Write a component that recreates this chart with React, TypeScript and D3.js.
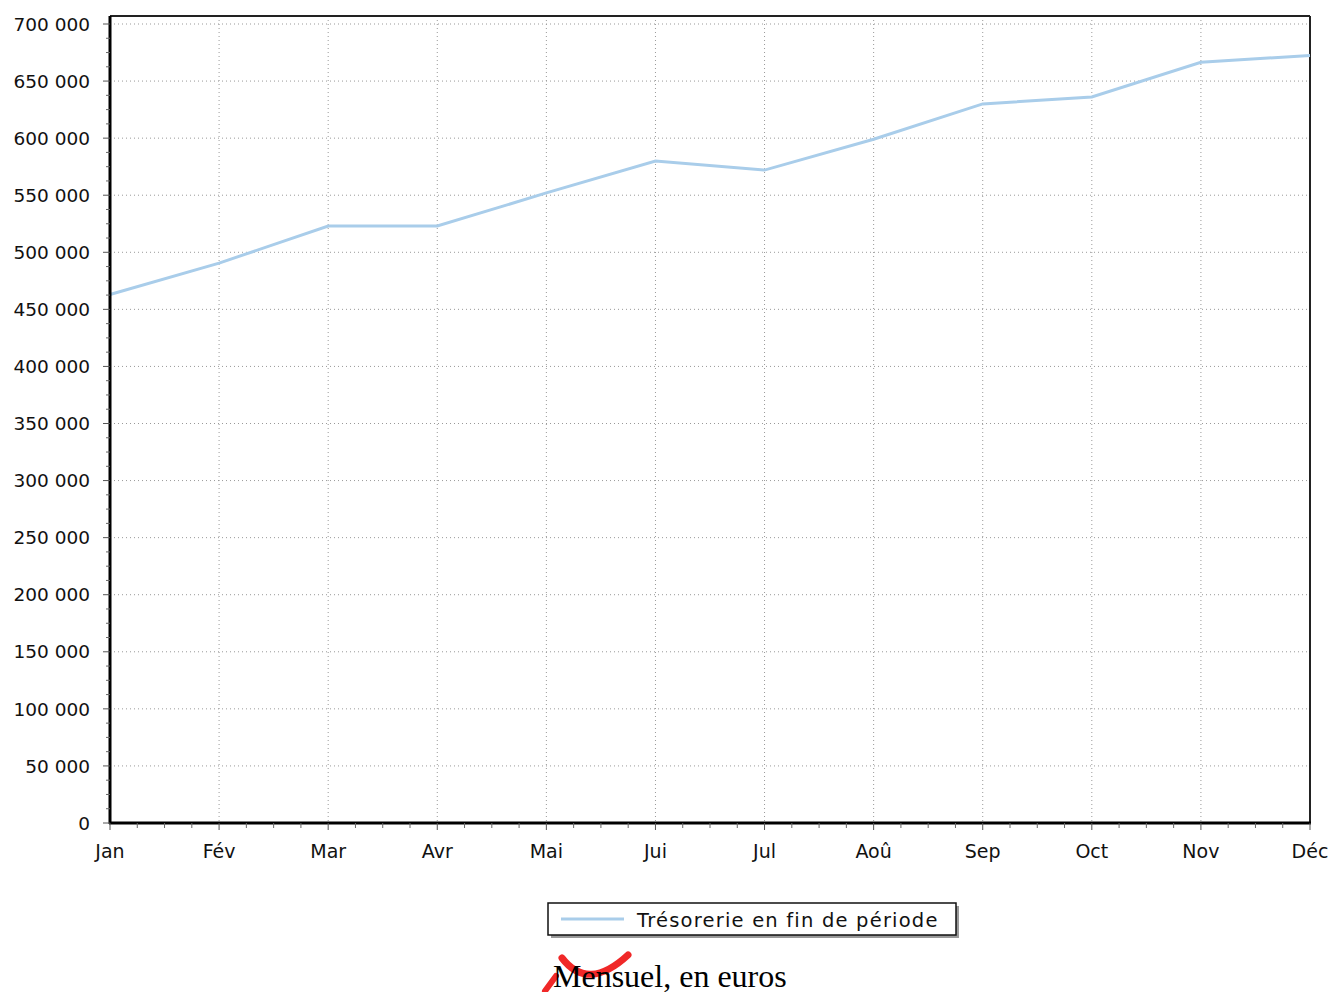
import * as d3 from 'd3';

const months = ['Jan', 'Fév', 'Mar', 'Avr', 'Mai', 'Jui', 'Jul', 'Aoû', 'Sep', 'Oct', 'Nov', 'Déc'];
const tresorerie = [463000, 490500, 523000, 523000, 552000, 580000, 572000, 599000, 630000, 636000, 666500, 672500];
const yTicks = [0, 50000, 100000, 150000, 200000, 250000, 300000, 350000, 400000, 450000, 500000, 550000, 600000, 650000, 700000];

const WIDTH = 1332;
const HEIGHT = 992;
const PLOT = { left: 110, right: 1310, top: 24, bottom: 823, frameTop: 16 };
const FONT = '"DejaVu Sans", Verdana, sans-serif';
const LINE_COLOR = '#a9cdea';

const fmt = (v: number) => d3.format(',')(v).replace(/,/g, ' ');

export default function App() {
    const xScale = d3
        .scalePoint<string>()
        .domain(months)
        .range([PLOT.left, PLOT.right]);

    const yScale = d3
        .scaleLinear()
        .domain([0, 700000])
        .range([PLOT.bottom, PLOT.top]);

    const step = xScale.step();
    const line = d3
        .line<number>()
        .x((_, i) => xScale(months[i]) ?? 0)
        .y((d) => yScale(d));

    // minor ticks: 4 subdivisions between majors
    const xMinor: number[] = [];
    months.slice(0, -1).forEach((m) => {
        const x0 = xScale(m) ?? 0;
        for (let k = 1; k < 4; k++) xMinor.push(x0 + (step * k) / 4);
    });
    const yMinor: number[] = [];
    yTicks.slice(0, -1).forEach((v) => {
        for (let k = 1; k < 4; k++) yMinor.push(yScale(v + (50000 * k) / 4));
    });

    return (
        <svg width={WIDTH} height={HEIGHT} style={{ position: 'absolute', left: 0, top: 0, background: '#fff' }}>
            {/* grid */}
            {yTicks.map((v) => (
                <line key={'gy' + v} x1={PLOT.left} x2={PLOT.right} y1={yScale(v)} y2={yScale(v)}
                    stroke="#999" strokeWidth={1} strokeDasharray="1,3" />
            ))}
            {months.map((m) => (
                <line key={'gx' + m} x1={xScale(m)} x2={xScale(m)} y1={PLOT.frameTop} y2={PLOT.bottom}
                    stroke="#999" strokeWidth={1} strokeDasharray="1,3" />
            ))}

            {/* frame */}
            <line x1={PLOT.left} x2={PLOT.right} y1={PLOT.frameTop} y2={PLOT.frameTop} stroke="#222" strokeWidth={2} />
            <line x1={PLOT.right} x2={PLOT.right} y1={PLOT.frameTop} y2={PLOT.bottom} stroke="#222" strokeWidth={2} />

            {/* series */}
            <path d={line(tresorerie) ?? ''} fill="none" stroke={LINE_COLOR} strokeWidth={3} />

            {/* axes */}
            <line x1={PLOT.left} x2={PLOT.left} y1={PLOT.frameTop} y2={PLOT.bottom + 1} stroke="#000" strokeWidth={3} />
            <line x1={PLOT.left - 1} x2={PLOT.right + 1} y1={PLOT.bottom} y2={PLOT.bottom} stroke="#000" strokeWidth={3} />

            {yTicks.map((v) => (
                <g key={'ty' + v}>
                    <line x1={PLOT.left - 7} x2={PLOT.left} y1={yScale(v)} y2={yScale(v)} stroke="#555" />
                    <text x={90} y={yScale(v)} dy="0.36em" textAnchor="end" fontFamily={FONT} fontSize={18.5} fill="#111">
                        {fmt(v)}
                    </text>
                </g>
            ))}
            {yMinor.map((y, i) => (
                <line key={'my' + i} x1={PLOT.left - 4} x2={PLOT.left} y1={y} y2={y} stroke="#666" />
            ))}

            {months.map((m) => (
                <g key={'tx' + m}>
                    <line x1={xScale(m)} x2={xScale(m)} y1={PLOT.bottom} y2={PLOT.bottom + 7} stroke="#555" />
                    <text x={xScale(m)} y={858} textAnchor="middle" fontFamily={FONT} fontSize={19} fill="#111">
                        {m}
                    </text>
                </g>
            ))}
            {xMinor.map((x, i) => (
                <line key={'mx' + i} x1={x} x2={x} y1={PLOT.bottom} y2={PLOT.bottom + 5} stroke="#666" />
            ))}

            {/* legend */}
            <rect x={551} y={906} width={408} height={32} fill="#999" />
            <rect x={548} y={903} width={408} height={32} fill="#fff" stroke="#111" strokeWidth={1.5} />
            <line x1={561} x2={624} y1={919} y2={919} stroke={LINE_COLOR} strokeWidth={3} />
            <text x={637} y={927} fontFamily={FONT} fontSize={19.5} letterSpacing={1.2} fill="#111">Trésorerie en fin de période</text>

            {/* caption */}
            <path d="M 562 958 Q 588 992 628 955" fill="none" stroke="#f02828" strokeWidth={7} strokeLinecap="round" />
            <path d="M 545 991 L 556 976" fill="none" stroke="#f02828" strokeWidth={6} strokeLinecap="round" />
            <text x={553} y={987} fontFamily='"Liberation Serif", "Times New Roman", serif' fontSize={32} fill="#000">
                Mensuel, en euros
            </text>
        </svg>
    );
}
